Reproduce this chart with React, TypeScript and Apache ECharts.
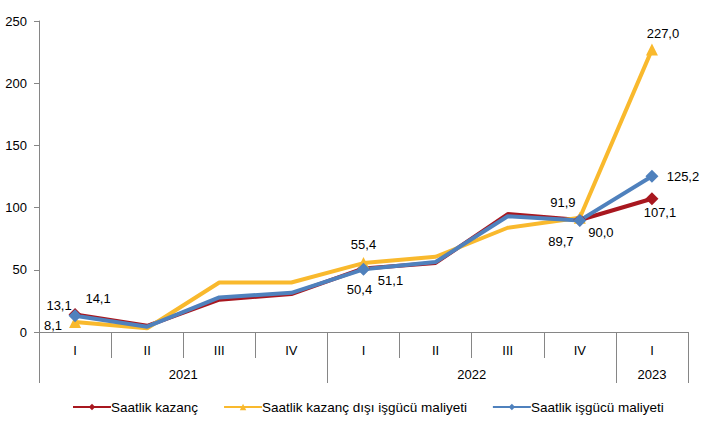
import React, { useEffect, useRef } from "react";
import * as echarts from "echarts";

const quarters = ["I", "II", "III", "IV", "I", "II", "III", "IV", "I"];
const years = ["2021", "2022", "2023"];
const yearCenters = [2, 6, 8.5];
const yearBounds = [0, 4, 8, 9];

const seriesNames = [
  "Saatlik kazanç",
  "Saatlik kazanç dışı işgücü maliyeti",
  "Saatlik işgücü maliyeti",
];

const earnings = [14.1, 5.0, 26.0, 30.5, 51.1, 55.5, 94.8, 90.0, 107.1];
const nonWage = [8.1, 3.0, 39.8, 39.8, 55.4, 60.5, 83.8, 91.9, 227.0];
const laborCost = [13.1, 4.3, 27.8, 31.5, 50.4, 56.3, 93.0, 89.7, 125.2];

const yTicks = { min: 0, max: 250, interval: 50 };

const FONT = "Liberation Sans, Arial, sans-serif";

type LabelSpec = { idx: number; dx: number; dy: number };

const earningsLabels: LabelSpec[] = [
  { idx: 0, dx: 23, dy: -16 },
  { idx: 4, dx: 27, dy: 12 },
  { idx: 7, dx: 21, dy: 12 },
  { idx: 8, dx: 8, dy: 14 },
];
const nonWageLabels: LabelSpec[] = [
  { idx: 0, dx: -22, dy: 4 },
  { idx: 4, dx: 0, dy: -19 },
  { idx: 7, dx: -17, dy: -15 },
  { idx: 8, dx: 11, dy: -16 },
];
const laborLabels: LabelSpec[] = [
  { idx: 0, dx: -16, dy: -10 },
  { idx: 4, dx: -4, dy: 20 },
  { idx: 7, dx: -19, dy: 21 },
  { idx: 8, dx: 31, dy: 0 },
];

function buildData(values: number[], specs: LabelSpec[], markSize: number) {
  return values.map((v, i) => {
    const s = specs.find((x) => x.idx === i);
    if (!s) return { value: v, symbolSize: 0 };
    return {
      value: v,
      symbolSize: markSize,
      label: {
        show: true,
        position: "inside",
        offset: [s.dx, s.dy],
        formatter: (p: any) => Number(p.value).toFixed(1).replace(".", ","),
        color: "#000",
        fontSize: 13,
        fontFamily: FONT,
      },
    };
  });
}

export default function App() {
  const ref = useRef<HTMLDivElement>(null);
  useEffect(() => {
    document.body.style.margin = "0";
    if (!ref.current) return;
    const chart = echarts.init(ref.current, undefined, { renderer: "svg" });
    const colors = ["#A8171F", "#F9B92D", "#4F81BD"];
    chart.setOption({
      animation: false,
      color: colors,
      textStyle: { fontFamily: FONT },
      grid: { left: 39, right: 16, top: 21, bottom: 89, containLabel: false, outerBoundsMode: "none" },
      legend: {
        left: 67,
        top: 395,
        itemWidth: 38,
        itemHeight: 8,
        itemGap: 25,
        textStyle: { fontSize: 13.5, color: "#000", fontFamily: FONT, padding: [0, 0, 0, -5] },
        data: seriesNames,
      },
      xAxis: [
        {
          type: "category",
          data: quarters,
          boundaryGap: true,
          position: "bottom",
          axisLine: { show: true, lineStyle: { color: "#868686", width: 1 } },
          axisTick: { show: true, interval: 0, length: 26, lineStyle: { color: "#868686" } },
          axisLabel: { interval: 0, margin: 12, fontSize: 13, color: "#000", fontFamily: FONT },
          splitLine: { show: false },
        },
        {
          type: "value",
          min: 0,
          max: 9,
          position: "bottom",
          axisLine: { show: false },
          splitLine: { show: false },
          axisTick: {
            show: true,
            customValues: yearBounds,
            length: 51,
            lineStyle: { color: "#868686" },
          },
          axisLabel: {
            customValues: yearCenters,
            formatter: (v: number) => {
              const i = yearCenters.indexOf(v);
              return i >= 0 ? years[i] : "";
            },
            margin: 36,
            fontSize: 13,
            color: "#000",
            fontFamily: FONT,
          },
        },
      ],
      yAxis: {
        type: "value",
        min: yTicks.min,
        max: yTicks.max,
        interval: yTicks.interval,
        axisLine: { show: true, lineStyle: { color: "#868686" } },
        axisTick: { show: true, length: 5, lineStyle: { color: "#868686" } },
        axisLabel: { margin: 12, fontSize: 13, color: "#000", fontFamily: FONT },
        splitLine: { show: false },
      },
      series: [
        {
          name: seriesNames[0],
          type: "line",
          xAxisIndex: 0,
          symbol: "diamond",
          showAllSymbol: true,
          lineStyle: { width: 4, color: colors[0] },
          itemStyle: { color: colors[0] },
          data: buildData(earnings, earningsLabels, 13),
        },
        {
          name: seriesNames[1],
          type: "line",
          xAxisIndex: 0,
          symbol: "triangle",
          showAllSymbol: true,
          lineStyle: { width: 4, color: colors[1] },
          itemStyle: { color: colors[1] },
          data: buildData(nonWage, nonWageLabels, 12),
        },
        {
          name: seriesNames[2],
          type: "line",
          xAxisIndex: 0,
          symbol: "diamond",
          showAllSymbol: true,
          lineStyle: { width: 4, color: colors[2] },
          itemStyle: { color: colors[2] },
          data: buildData(laborCost, laborLabels, 13),
        },
      ],
    });
    return () => chart.dispose();
  }, []);
  return <div ref={ref} style={{ width: 704, height: 421 }} />;
}
